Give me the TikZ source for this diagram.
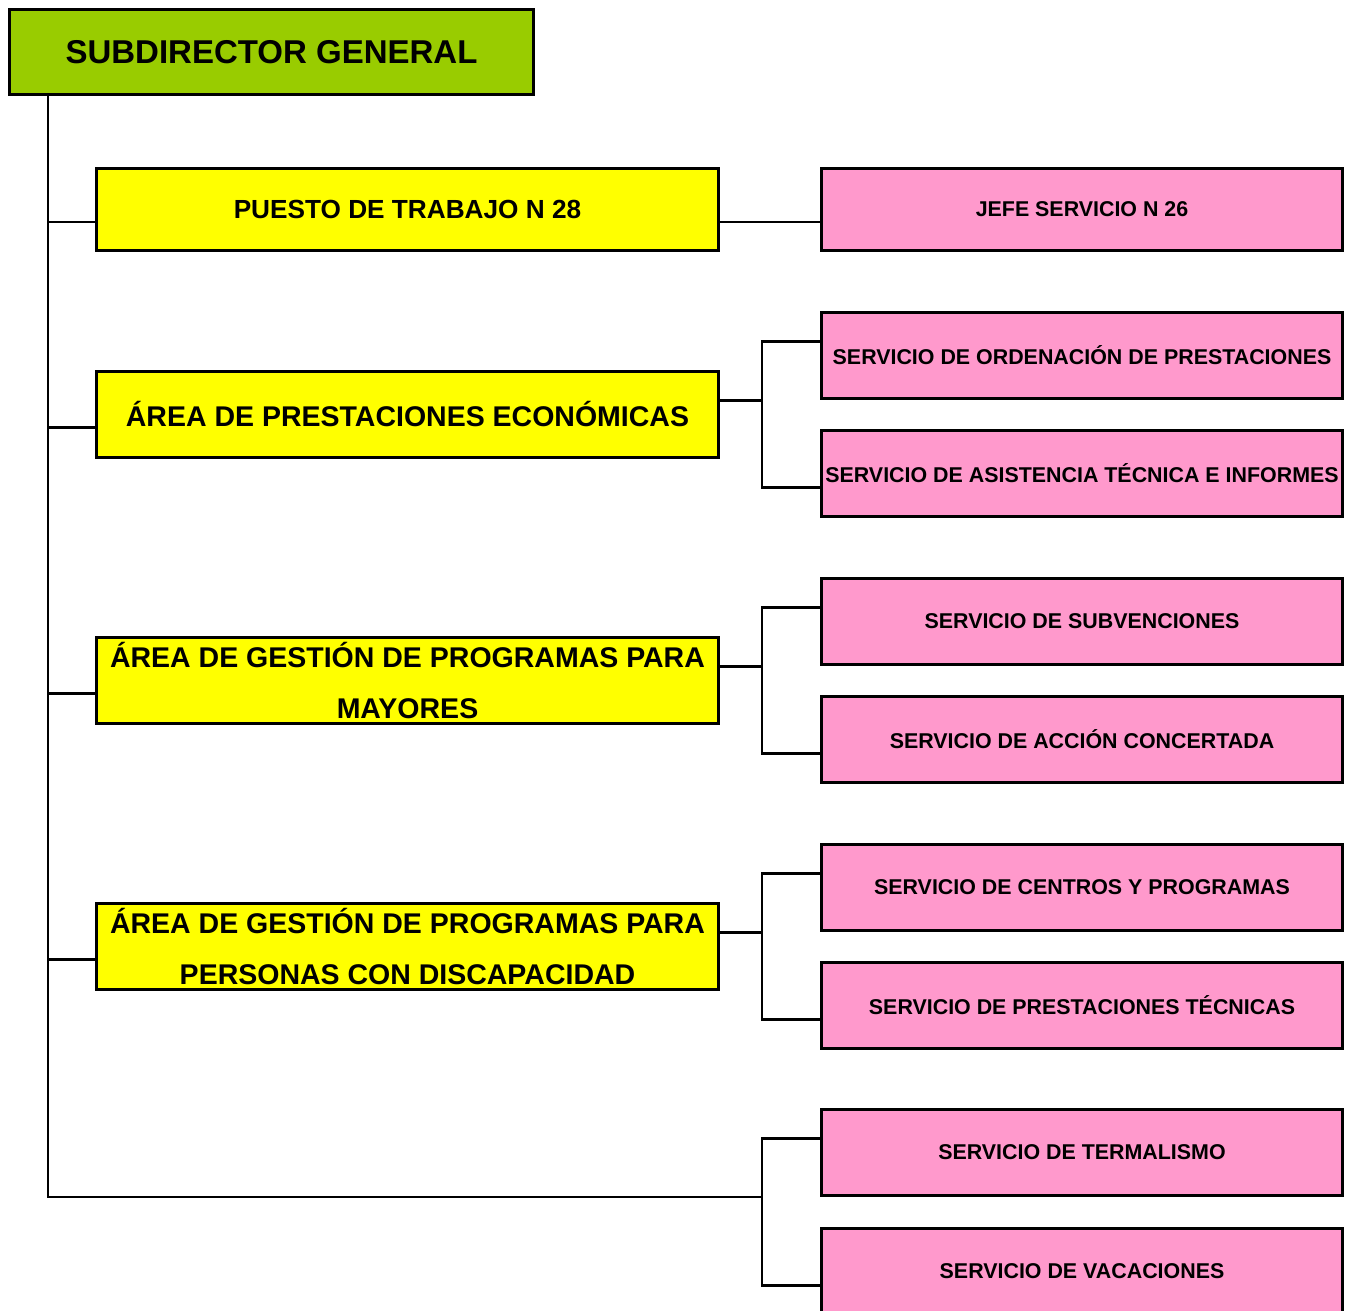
\documentclass[tikz,border=0pt]{standalone}
\usepackage{fontspec}
\setmainfont{Liberation Sans}
\usetikzlibrary{calc}
\definecolor{jefegreen}{HTML}{99CC00}
\definecolor{areayellow}{HTML}{FFFF00}
\definecolor{servpink}{HTML}{FF99CC}

\begin{document}
\begin{tikzpicture}[x=1pt, y=-1pt,
  box/.style={draw, line width=2.5pt, inner sep=0pt, align=center},
  jefe/.style={box, fill=jefegreen, minimum width=524pt, minimum height=85pt, font=\bfseries\fontsize{33}{40}\selectfont},
  area/.style={box, fill=areayellow, minimum width=622pt, minimum height=86pt, font=\bfseries\fontsize{28.5}{51}\selectfont},
  serv/.style={box, fill=servpink, minimum width=521pt, minimum height=86pt, font=\bfseries\fontsize{21.4}{25}\selectfont},
  link/.style={line width=2.6pt}]

  \useasboundingbox (0,0) rectangle (1349,1310);

  %% left column
  \node[jefe] (sub) at (271.5, 52) {SUBDIRECTOR GENERAL};
  \node[area, minimum height=82pt, font=\bfseries\fontsize{26.2}{30}\selectfont] (a1) at (407.5, 209.5) {PUESTO DE TRABAJO N 28};
  \node[area] (a2) at (407.5, 414.5) {ÁREA DE PRESTACIONES ECONÓMICAS};
  \node[area] (a3) at (407.5, 680.5) {ÁREA DE GESTIÓN DE PROGRAMAS PARA\\MAYORES};
  \node[area] (a4) at (407.5, 946.5) {ÁREA DE GESTIÓN DE PROGRAMAS PARA\\PERSONAS CON DISCAPACIDAD};

  %% right column
  \node[serv, minimum height=82pt] (s1) at (1082, 209.5) {JEFE SERVICIO N 26};
  \node[serv] (s2) at (1082, 355.5) {SERVICIO DE ORDENACIÓN DE PRESTACIONES};
  \node[serv] (s3) at (1082, 473.5) {SERVICIO DE ASISTENCIA TÉCNICA E INFORMES};
  \node[serv] (s4) at (1082, 621.5) {SERVICIO DE SUBVENCIONES};
  \node[serv] (s5) at (1082, 739.5) {SERVICIO DE ACCIÓN CONCERTADA};
  \node[serv] (s6) at (1082, 887.5) {SERVICIO DE CENTROS Y PROGRAMAS};
  \node[serv] (s7) at (1082, 1005.5) {SERVICIO DE PRESTACIONES TÉCNICAS};
  \node[serv] (s8) at (1082, 1152.5) {SERVICIO DE TERMALISMO};
  \node[serv] (s9) at (1082, 1271.5) {SERVICIO DE VACACIONES};

  %% trunk
  \coordinate (trunk) at (48, 1197);
  \coordinate (fork) at (762, 1197);
  \draw[link] (sub.south -| trunk) -- (trunk) -- (fork);

  %% branches to the left column
  \foreach \a in {a1,a2,a3,a4}{
    \coordinate (\a in) at ($(\a.north west)!.65!(\a.south west)$);
    \draw[link] (\a in -| trunk) -- (\a in);
  }
  \draw[link] (a1in -| a1.east) -- (a1in -| s1.west); % puesto -> jefe

  %% forks to the right column
  \foreach \a/\u/\d in {a2/s2/s3, a3/s4/s5, a4/s6/s7}{
    \coordinate (\a out) at ($(\a.north east)!.34!(\a.south east)$);
    \draw[link] (\a out) -- (\a out -| fork);
  }
  \foreach \a/\u/\d in {a2/s2/s3, a3/s4/s5, a4/s6/s7, trunk/s8/s9}{
    \coordinate (\u in) at ($(\u.north west)!.34!(\u.south west)$);
    \coordinate (\d in) at ($(\d.north west)!.66!(\d.south west)$);
    \draw[link] (\u in) -- (\u in -| fork) -- (\d in -| fork) -- (\d in);
  }
\end{tikzpicture}
\end{document}
